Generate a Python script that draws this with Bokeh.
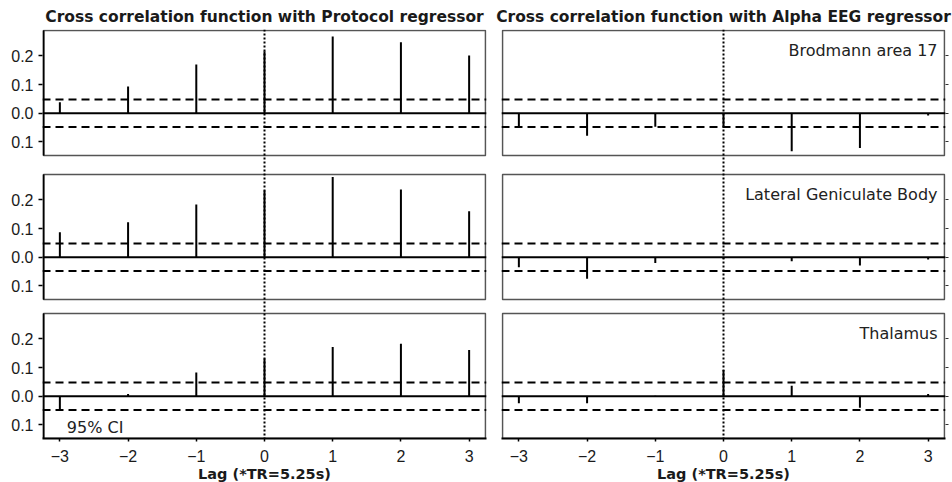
from bokeh.plotting import figure
from bokeh.models import (Range1d, LinearAxis, FixedTicker, Span, Label,
                          CustomJSTickFormatter, ColumnDataSource)
from bokeh.layouts import row
from bokeh.embed import file_html
from bokeh.resources import INLINE

# ---------------- data ----------------
lags = [-3, -2, -1, 0, 1, 2, 3]
regions = ["Brodmann area 17", "Lateral Geniculate Body", "Thalamus"]

protocol_ba17 = [0.038, 0.093, 0.170, 0.216, 0.267, 0.247, 0.201]
protocol_lgb = [0.087, 0.122, 0.184, 0.232, 0.279, 0.236, 0.160]
protocol_thal = [-0.044, 0.008, 0.083, 0.131, 0.171, 0.183, 0.161]

alpha_ba17 = [-0.047, -0.078, -0.047, -0.046, -0.132, -0.121, -0.008]
alpha_lgb = [-0.035, -0.075, -0.020, -0.005, -0.014, -0.029, -0.008]
alpha_thal = [-0.024, -0.024, 0.002, 0.091, 0.037, -0.040, 0.008]

ci_level = 0.048
y_ticks = [-0.1, 0.0, 0.1, 0.2]
x_ticks = [-3, -2, -1, 0, 1, 2, 3]
titles = ["Cross correlation function with Protocol regressor",
          "Cross correlation function with Alpha EEG regressor"]
x_label = "Lag (*TR=5.25s)"
ci_text = "95% CI"

# ---------------- layout constants ----------------
X_LO, X_HI = -3.24, 3.24
Y_LO, Y_HI = -0.147, 0.288
BOX_W = 442
PANEL_TOP_PX = [0, 144, 283]
PANEL_H = 125
PANEL_SPAN_PX = 408
PAD_X, PAD_TOP = 1, 1
FRAME_W = BOX_W + 2 * PAD_X
FRAME_H = PANEL_SPAN_PX + PAD_TOP
U_Y = (Y_HI - Y_LO) / PANEL_H
U_X = (X_HI - X_LO) / BOX_W

TICK_FONT = "Liberation Sans"
TEXT_FONT = "DejaVu Sans"
INK = "#1a1a1a"


def panel_end(k):
    return Y_HI + (PANEL_TOP_PX[k] + PAD_TOP) * U_Y


def panel_range(k):
    end = panel_end(k)
    return Range1d(end - FRAME_H * U_Y, end)


def make_column(title, series, left_labels, ci_label):
    extra = {f"p{k}": panel_range(k) for k in range(3)}
    base = panel_range(2)
    offsets = [panel_end(2) - panel_end(k) for k in range(3)]
    tick_pos = [t + o for o in offsets for t in y_ticks]

    p = figure(frame_width=FRAME_W, frame_height=FRAME_H,
               x_range=Range1d(X_LO - PAD_X * U_X, X_HI + PAD_X * U_X),
               y_range=base, extra_y_ranges=extra, y_axis_location=None,
               output_backend="svg", toolbar_location=None,
               min_border_left=42 if left_labels else 8,
               min_border_right=7,
               min_border_top=29, min_border_bottom=30)
    p.outline_line_color = None
    p.grid.visible = False
    p.background_fill_color = "white"
    p.border_fill_color = "white"

    p.title.text = title
    p.title.align = "center"
    p.title.text_font = TEXT_FONT
    p.title.text_font_style = "bold"
    p.title.text_font_size = "15.5px"
    p.title.text_color = INK
    p.title.standoff = 8

    xa = p.xaxis[0]
    xa.ticker = FixedTicker(ticks=x_ticks)
    xa.axis_line_width = 2
    xa.axis_line_color = "black"
    xa.major_tick_out = 3
    xa.major_tick_in = 0
    xa.minor_tick_line_color = None
    xa.major_tick_line_width = 1.5
    xa.major_label_text_font = TICK_FONT
    xa.major_label_text_font_size = "16px"
    xa.major_label_text_color = INK
    xa.major_label_standoff = 8
    xa.axis_label = x_label
    xa.axis_label_text_font = TEXT_FONT
    xa.axis_label_text_font_style = "bold"
    xa.axis_label_text_font_size = "14.5px"
    xa.axis_label_text_color = INK
    xa.axis_label_standoff = 1

    fmt = CustomJSTickFormatter(
        args=dict(offs=offsets, lo=Y_LO, hi=Y_HI, show=left_labels),
        code="""
        if (!show) { return ''; }
        for (const o of offs) {
            const v = tick - o;
            if (v >= lo - 1e-6 && v <= hi + 1e-6) { return Math.abs(v).toFixed(1); }
        }
        return '';
        """)
    ya = LinearAxis(ticker=FixedTicker(ticks=tick_pos), formatter=fmt)
    ya.axis_line_color = None
    ya.minor_tick_line_color = None
    ya.major_tick_in = 0
    if left_labels:
        ya.major_tick_out = 4
        ya.major_tick_line_width = 1.5
        ya.major_tick_line_color = "black"
        ya.major_label_text_font = TICK_FONT
        ya.major_label_text_font_size = "16px"
        ya.major_label_text_color = INK
        ya.major_label_standoff = 5
        p.add_layout(ya, "left")
    else:
        ya.major_tick_out = 3
        ya.major_tick_line_width = 1.2
        ya.major_tick_line_color = "#333333"
        ya.major_label_standoff = 0
        p.add_layout(ya, "right")

    p.add_layout(Span(location=0, dimension="height", line_color="black",
                      line_width=2, line_dash="2 2"))

    for k, (vals, reg) in enumerate(zip(series, regions)):
        name = f"p{k}"
        src = ColumnDataSource(dict(lag=lags, r=vals))
        p.quad(left=[X_LO], right=[X_HI], bottom=[Y_LO], top=[Y_HI],
               fill_color=None, line_color="#555555", line_width=1.6,
               y_range_name=name)
        if left_labels:
            p.segment(x0=[X_LO], x1=[X_LO], y0=[Y_LO], y1=[Y_HI],
                      line_color="black", line_width=2, y_range_name=name)
        p.add_layout(Span(location=0, dimension="width", y_range_name=name,
                          line_color="black", line_width=2))
        for c in (ci_level, -ci_level):
            p.add_layout(Span(location=c, dimension="width", y_range_name=name,
                              line_color="black", line_width=2, line_dash="8 5"))
        p.segment(x0="lag", y0=0, x1="lag", y1="r", source=src,
                  y_range_name=name, line_color="black", line_width=2)

        if not left_labels:
            p.add_layout(Label(x=X_HI, y=Y_HI, x_offset=-7, y_offset=-20,
                               text=reg, text_align="right",
                               text_baseline="alphabetic", y_range_name=name,
                               text_font=TEXT_FONT, text_font_size="16px",
                               text_color="#222222"))

        if ci_label and k == 2:
            p.add_layout(Label(x=lags[0], y=-ci_level, x_offset=7, y_offset=-17,
                               text=ci_text, text_align="left",
                               text_baseline="alphabetic", y_range_name=name,
                               text_font=TEXT_FONT, text_font_size="16px",
                               text_color="#222222"))
    return p


left = make_column(titles[0], [protocol_ba17, protocol_lgb, protocol_thal],
                   True, True)
right = make_column(titles[1], [alpha_ba17, alpha_lgb, alpha_thal],
                    False, False)

layout = row(left, right)
open("out.html", "w").write(file_html(layout, INLINE))
